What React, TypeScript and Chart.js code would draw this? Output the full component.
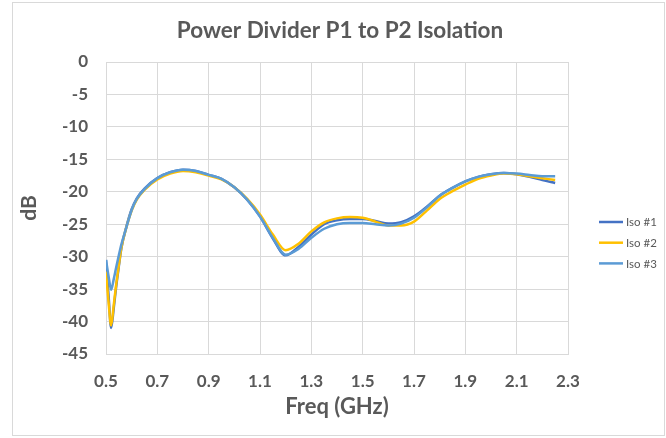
import React, { useEffect, useRef } from "react";
import { Chart, registerables } from "chart.js";

Chart.register(...registerables);

const TITLE = "Power Divider P1 to P2 Isolation";
const X_TITLE = "Freq (GHz)";
const Y_TITLE = "dB";
const X_TICKS = [0.5, 0.7, 0.9, 1.1, 1.3, 1.5, 1.7, 1.9, 2.1, 2.3];
const SERIES_NAMES = ["Iso #1", "Iso #2", "Iso #3"];
const SERIES_COLORS = ["#4472C4", "#FFC000", "#5B9BD5"];

const FREQ = [
  0.5, 0.51, 0.52, 0.53, 0.54, 0.55, 0.56, 0.58, 0.6, 0.62, 0.65, 0.7, 0.75, 0.8, 0.85, 0.9, 0.95, 1.0, 1.05, 1.1,
  1.15, 1.2, 1.25, 1.3, 1.35, 1.4, 1.45, 1.5, 1.55, 1.6, 1.65, 1.7, 1.75, 1.8, 1.85, 1.9, 1.95, 2.0, 2.05, 2.1, 2.15,
  2.2, 2.25,
];
const ISO1 = [
  -30.5, -36.0, -41.0, -38.0, -34.5, -31.5, -28.7, -25.3, -22.7, -21.0, -19.5, -17.9, -17.0, -16.6, -16.8, -17.4,
  -18.0, -19.3, -21.2, -23.8, -27.2, -29.8, -28.5, -26.6, -25.0, -24.4, -24.2, -24.2, -24.5, -24.9, -24.7, -23.8,
  -22.3, -20.6, -19.4, -18.4, -17.7, -17.3, -17.1, -17.3, -17.7, -18.2, -18.65,
];
const ISO2 = [
  -32.3, -37.0, -40.6, -37.5, -34.2, -31.3, -28.6, -25.4, -22.9, -21.2, -19.7, -18.1, -17.2, -16.8, -17.0, -17.5,
  -18.1, -19.3, -21.1, -23.5, -26.6, -29.0, -28.0, -26.1, -24.7, -24.1, -23.9, -24.0, -24.6, -25.2, -25.2, -24.6,
  -22.9, -21.1, -19.9, -18.9, -18.0, -17.5, -17.2, -17.3, -17.6, -17.9, -18.2,
];
const ISO3 = [
  -30.5, -33.0, -35.1, -33.5, -31.6, -29.8, -28.1, -25.4, -22.8, -21.1, -19.6, -17.9, -17.0, -16.6, -16.8, -17.4,
  -18.0, -19.3, -21.2, -23.8, -27.1, -29.7, -28.8, -27.1, -25.7, -25.0, -24.8, -24.8, -25.0, -25.2, -24.9, -24.0,
  -22.4, -20.6, -19.4, -18.4, -17.7, -17.3, -17.1, -17.2, -17.4, -17.6, -17.6,
];
const SERIES = [ISO1, ISO2, ISO3];

const FONT = "Lato, 'Open Sans', sans-serif";
const TEXT = "#595959";
const GRID = "#d9d9d9";

const frame = {
  id: "frame",
  beforeDraw(chart: any) {
    const ctx = chart.ctx;
    ctx.save();
    ctx.fillStyle = "#ffffff";
    ctx.fillRect(0, 0, chart.width, chart.height);
    ctx.strokeStyle = GRID;
    ctx.lineWidth = 1;
    ctx.strokeRect(12.5, 2.5, 652, 433);
    ctx.fillStyle = TEXT;
    ctx.font = `bold 22.5px ${FONT}`;
    ctx.textAlign = "center";
    ctx.textBaseline = "middle";
    ctx.fillText(TITLE, 340, 31);
    ctx.restore();
  },
};

const sideLegend = {
  id: "sideLegend",
  afterDraw(chart: any) {
    const ctx = chart.ctx;
    ctx.save();
    ctx.font = `11.5px ${FONT}`;
    ctx.textBaseline = "middle";
    ctx.textAlign = "left";
    chart.data.datasets.forEach((ds: any, i: number) => {
      const y = 222 + i * 20.7;
      ctx.strokeStyle = ds.borderColor;
      ctx.lineWidth = 2.5;
      ctx.beginPath();
      ctx.moveTo(599, y);
      ctx.lineTo(623, y);
      ctx.stroke();
      ctx.fillStyle = TEXT;
      ctx.fillText(ds.label, 626, y + 0.5);
    });
    ctx.restore();
  },
};

export default function App() {
  const ref = useRef<HTMLCanvasElement>(null);
  useEffect(() => {
    if (!ref.current) return;
    const chart = new Chart(ref.current, {
      type: "line",
      data: {
        datasets: SERIES.map((s, i) => ({
          label: SERIES_NAMES[i],
          data: FREQ.map((f, j) => ({ x: f, y: s[j] })),
          borderColor: SERIES_COLORS[i],
          backgroundColor: SERIES_COLORS[i],
          borderWidth: 2.5,
          pointRadius: 0,
          cubicInterpolationMode: "monotone",
          order: 3 - i,
          fill: false,
        })),
      },
      options: {
        animation: false,
        responsive: false,
        maintainAspectRatio: false,
        layout: { padding: { left: 12, right: 98, top: 62, bottom: 2 } },
        plugins: {
          legend: { display: false },
          tooltip: { enabled: false },
          title: { display: false },
        },
        scales: {
          x: {
            type: "linear",
            min: 0.5,
            max: 2.3,
            afterBuildTicks: (scale: any) => {
              scale.ticks = X_TICKS.map((v) => ({ value: v }));
            },
            afterFit: (scale: any) => {
              scale.height = 82;
            },
            ticks: {
              color: TEXT,
              font: { family: FONT, size: 17, weight: "bold" },
              padding: 17,
              autoSkip: false,
              maxRotation: 0,
              callback: (v: any) => Number(v).toFixed(1),
            },
            grid: { color: GRID, drawTicks: false, lineWidth: 1 },
            border: { color: GRID },
            title: {
              display: true,
              text: X_TITLE,
              color: TEXT,
              font: { family: FONT, size: 22, weight: "bold", lineHeight: 1.2 },
              padding: { top: 0, bottom: 16 },
            },
          },
          y: {
            min: -45,
            max: 0,
            afterFit: (scale: any) => {
              scale.width = 94;
            },
            ticks: {
              stepSize: 5,
              color: TEXT,
              font: { family: FONT, size: 17, weight: "bold" },
              padding: 18,
            },
            grid: { color: GRID, drawTicks: false, lineWidth: 1 },
            border: { color: GRID },
            title: {
              display: true,
              text: Y_TITLE,
              color: TEXT,
              font: { family: FONT, size: 21, weight: "bold", lineHeight: 1.2 },
              padding: { top: 5, bottom: 0 },
            },
          },
        },
      },
      plugins: [frame, sideLegend],
    } as any);
    return () => chart.destroy();
  }, []);
  return (
    <div style={{ position: "absolute", left: 0, top: 0, width: 666, height: 438 }}>
      <canvas ref={ref} width={666} height={438} style={{ display: "block" }} />
    </div>
  );
}
